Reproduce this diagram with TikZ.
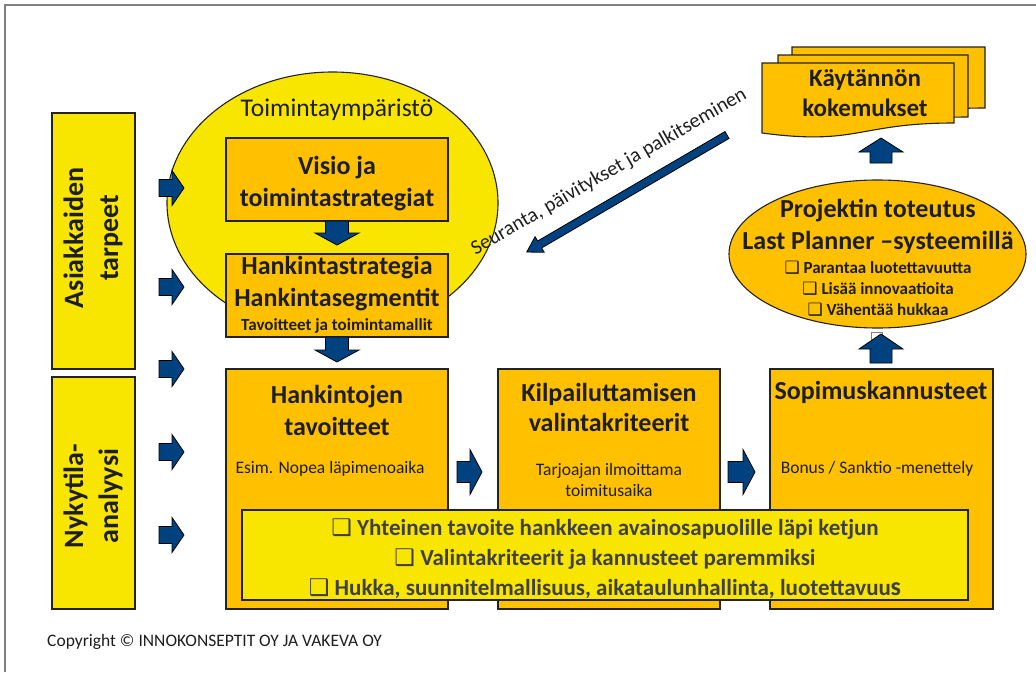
\documentclass[tikz,border=0pt]{standalone}
\usepackage{fontspec}
\setmainfont{Carlito}
\newfontfamily\dejavu{DejaVu Sans}
\usetikzlibrary{shapes.geometric}
\definecolor{yel}{RGB}{248,230,0}
\definecolor{org}{RGB}{255,192,0}
\definecolor{blu}{RGB}{0,66,128}
\definecolor{edge}{RGB}{35,35,35}
\definecolor{tc}{RGB}{30,30,30}
\definecolor{tg}{RGB}{64,64,64}
\newcommand{\cbx}{{\dejavu\char"2751}}
\tikzset{
  obox/.style={draw=edge, line width=1.1pt, fill=org, inner sep=0},
  ybox/.style={draw=edge, line width=1.1pt, fill=yel, inner sep=0},
  ttl/.style={font=\fontsize{26}{32}\selectfont\bfseries, text=tc, align=center, inner sep=0},
  subt/.style={font=\fontsize{17.5}{21}\selectfont, text=tc, align=center, inner sep=0},
  pics/barrow/.style n args={4}{code={
    \draw[fill=blu, draw=black, line width=0.8pt, line join=miter]
      (0,-#3) -- ({#1-#2},-#3) -- ({#1-#2},-#4) -- (#1,0) -- ({#1-#2},#4) -- ({#1-#2},#3) -- (0,#3) -- cycle;}}
}
\begin{document}
\begin{tikzpicture}[x=1pt,y=-1pt]
\useasboundingbox (0,0) rectangle (1036,672);
% frame
\draw[gray, line width=1.3pt] (5,672) -- (5,5) -- (1036,5);

% left boxes
\node[ybox, minimum width=83, minimum height=256] (ask) at (93.5,241) {};
\node[ttl, font=\fontsize{28}{35}\selectfont\bfseries, rotate=90] (askt) at (93,238) {Asiakkaiden\\tarpeet};
\node[ybox, minimum width=83, minimum height=232] (nyk) at (93.5,493) {};
\node[ttl, font=\fontsize{28}{35}\selectfont\bfseries, rotate=90] (nykt) at (93,496) {Nykytila-\\analyysi};

% environment ellipse
\node[ellipse, draw=edge, line width=1.1pt, fill=yel, minimum width=331, minimum height=262, inner sep=0] (env) at (332.5,203) {};
\node[font=\fontsize{25.5}{28}\selectfont, text=tc, inner sep=0] (envt) at (337,110) {Toimintaympäristö};

% left block arrows
\pic at (159,188) {barrow={25}{12}{8.5}{17.5}};
\pic at (159,287) {barrow={25}{12}{8.5}{17.5}};
\pic at (159,369) {barrow={25}{12}{8.5}{17.5}};
\pic at (159,452) {barrow={25}{12}{8.5}{17.5}};
\pic at (159,535) {barrow={25}{12}{8.5}{17.5}};

% strategy boxes
\node[obox, minimum width=222, minimum height=83] (visio) at (337,179.5) {};
\node[ttl] (visiot) at (337,184) {Visio ja\\toimintastrategiat};
\pic[rotate=-90] at (337,221) {barrow={24}{12}{11.5}{22}};
\node[obox, minimum width=222, minimum height=83] (hst) at (337,295.5) {};
\node[ttl] (hstt) at (337,284) {Hankintastrategia\\Hankintasegmentit};
\node[ttl, font=\fontsize{17}{20}\selectfont\bfseries] (hsts) at (337,326) {Tavoitteet ja toimintamallit};
\pic[rotate=-90] at (337,337) {barrow={25}{12}{11.5}{22}};

% lower boxes
\node[obox, minimum width=222, minimum height=240] (hk) at (337,489) {};
\node[ttl] (hkt) at (337,410.5) {Hankintojen\\tavoitteet};
\node[subt] (hks) at (330,469) {Esim. Nopea läpimenoaika};
\node[obox, minimum width=222, minimum height=240] (kil) at (609,489) {};
\node[ttl, font=\fontsize{26}{30}\selectfont\bfseries] (kilt) at (609,407) {Kilpailuttamisen\\valintakriteerit};
\node[subt] (kils) at (609,479.5) {Tarjoajan ilmoittama\\toimitusaika};
\node[obox, minimum width=223, minimum height=240] (sop) at (881.5,489) {};
\node[ttl] (sopt) at (881,392) {Sopimuskannusteet};
\node[subt] (sops) at (877,469) {Bonus / Sanktio -menettely};

\pic at (457,472) {barrow={25}{12}{10.5}{22.5}};
\pic at (728,472) {barrow={27}{12}{10.5}{22.5}};

% bottom yellow box
\node[ybox, minimum width=726, minimum height=90] (bot) at (605,555) {};
\node[font=\fontsize{23}{30}\selectfont\bfseries, text=tg, align=center, inner sep=0] (bott) at (605,559)
  {\cbx\ Yhteinen tavoite hankkeen avainosapuolille läpi ketjun\\
   \cbx\ Valintakriteerit ja kannusteet paremmiksi\\
   \cbx\ Hukka, suunnitelmallisuus, aikataulunhallinta, luotettavuu{\fontsize{26}{30}\selectfont s}};

% documents
\draw[obox] (792,47) -- (985,47) -- (985,108) .. controls (888.5,108) and (888.5,131) .. (792,118) -- cycle;
\draw[obox] (778,55) -- (968,55) -- (968,117) .. controls (873,117) and (873,140.6) .. (778,127) -- cycle;
\draw[obox] (762,63) -- (954,63) -- (954,123) .. controls (858,123) and (858,145.8) .. (762,133) -- cycle;
\node[ttl, font=\fontsize{25}{30}\selectfont\bfseries] (kok) at (865,93) {Käytännön\\kokemukset};
\pic[rotate=90] at (881,163) {barrow={25}{14}{11}{22}};

% project ellipse
\node[ellipse, draw=edge, line width=1.1pt, fill=org, minimum width=297, minimum height=148, inner sep=0] (proj) at (877.5,254) {};
\node[ttl] (projt) at (878,226) {Projektin toteutus\\Last Planner –systeemillä};
\node[ttl, font=\fontsize{17}{21}\selectfont\bfseries] (projb) at (878,289)
  {\cbx\ Parantaa luotettavuutta\\ \cbx\ Lisää innovaatioita\\ \cbx\ Vähentää hukkaa};
\node[draw=gray, fill=white, line width=0.7pt, minimum size=11, inner sep=0] (sq) at (877,337.5) {};
\pic[rotate=90] at (881,363) {barrow={29}{15}{11}{22}};

% feedback arrow
\pic[rotate=210.3] at (727,135) {barrow={232}{15}{4}{9}};
\node[font=\fontsize{20.5}{24}\selectfont, text=tc, rotate=30, inner sep=0] (fb) at (609,172) {Seuranta, päivitykset ja palkitseminen};

% copyright
\node[font=\fontsize{17.5}{20}\selectfont, text=tc, anchor=west, inner sep=0] (copy) at (47,642) {Copyright © INNOKONSEPTIT OY JA VAKEVA OY};
\end{tikzpicture}
\end{document}
